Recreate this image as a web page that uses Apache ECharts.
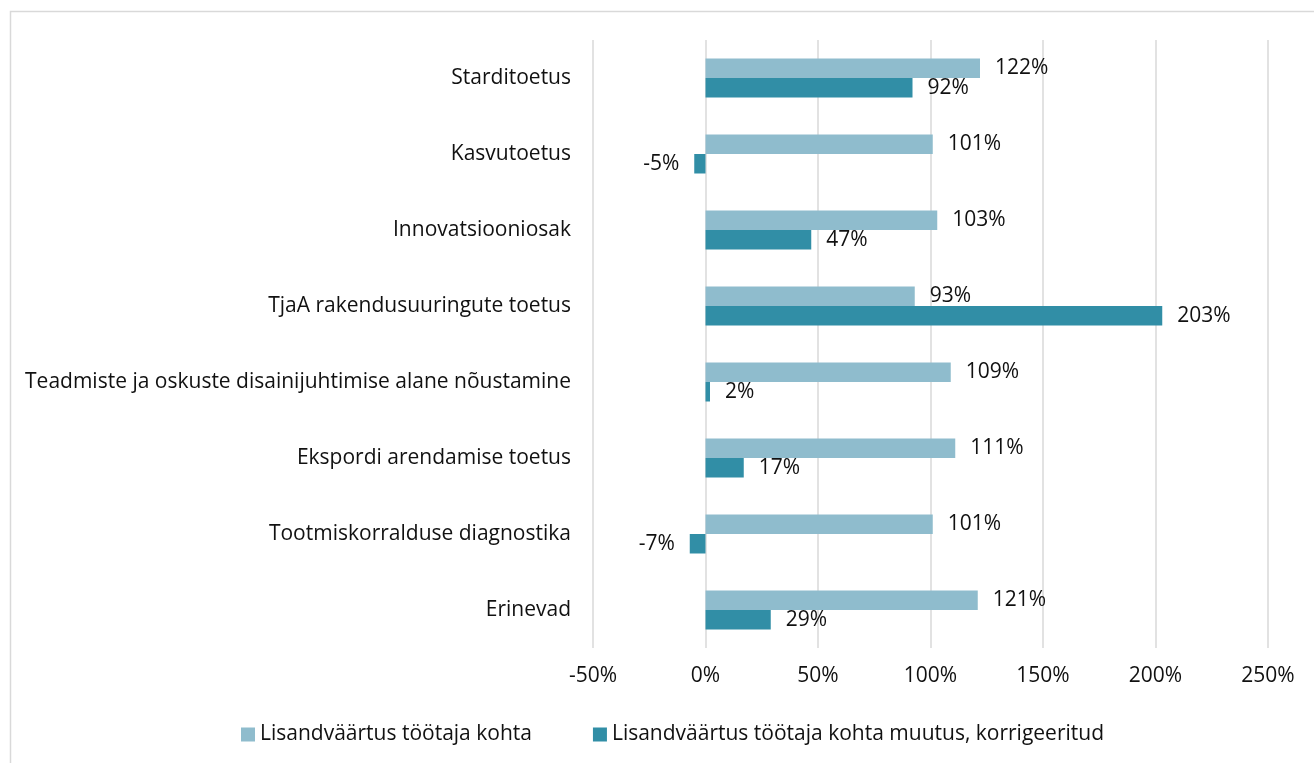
<!DOCTYPE html>
<html>
<head>
<meta charset="utf-8">
<script src="https://cdn.jsdelivr.net/npm/echarts@6/dist/echarts.min.js"></script>
<style>
  html, body { margin: 0; padding: 0; background: #fff; }
  #chart { width: 1314px; height: 763px; }
</style>
</head>
<body>
<div id="chart"></div>
<script>
// data
let categories = [
    'Starditoetus',
    'Kasvutoetus',
    'Innovatsiooniosak',
    'TjaA rakendusuuringute toetus',
    'Teadmiste ja oskuste disainijuhtimise alane nõustamine',
    'Ekspordi arendamise toetus',
    'Tootmiskorralduse diagnostika',
    'Erinevad'
];
let seriesNames = ['Lisandväärtus töötaja kohta', 'Lisandväärtus töötaja kohta muutus, korrigeeritud'];
let valuePerWorker = [122, 101, 103, 93, 109, 111, 101, 121];
let valueChange = [92, -5, 47, 203, 2, 17, -7, 29];
let cColors = ['#8fbccd', '#318ea6'];

let fontFamily = '"Open Sans", "Noto Sans", sans-serif';
let textColor = '#111';
let fontSize = 21;

let chart = echarts.init(document.getElementById('chart'));

// negative bars get their label on the left side
function toData(arr) {
    return arr.map(function (v) {
        return {
            value: v,
            label: { position: v < 0 ? 'left' : 'right' }
        };
    });
}

let labelStyle = {
    show: true,
    distance: 15,
    formatter: '{c}%',
    color: textColor,
    fontFamily: fontFamily,
    fontSize: fontSize
};

let option = {
    backgroundColor: '#fff',
    animation: false,
    textStyle: { fontFamily: fontFamily },
    graphic: [{
        type: 'rect',
        shape: { x: 10.5, y: 11.5, width: 1400, height: 900 },
        style: { fill: 'none', stroke: '#d9d9d9', lineWidth: 1.5 },
        silent: true
    }],
    legend: {
        left: 236,
        top: 719,
        itemWidth: 14,
        itemHeight: 14,
        itemGap: 61,
        icon: 'rect',
        textStyle: { color: textColor, fontSize: fontSize, fontFamily: fontFamily },
        data: seriesNames
    },
    grid: {
        left: 593,
        right: 46,
        top: 40,
        bottom: 115
    },
    xAxis: {
        type: 'value',
        min: -50,
        max: 250,
        interval: 50,
        axisLine: { show: false },
        axisTick: { show: false },
        splitLine: { lineStyle: { color: '#d9d9d9', width: 1.5 } },
        axisLabel: {
            formatter: '{value}%',
            margin: 18,
            color: textColor,
            fontSize: fontSize,
            fontFamily: fontFamily
        }
    },
    yAxis: {
        type: 'category',
        inverse: true,
        data: categories,
        axisLine: { show: false },
        axisTick: { show: false },
        axisLabel: {
            margin: 22,
            color: textColor,
            fontSize: fontSize,
            fontFamily: fontFamily
        }
    },
    series: [{
        name: seriesNames[0],
        type: 'bar',
        barWidth: 19.5,
        barGap: '0%',
        itemStyle: { color: cColors[0] },
        label: labelStyle,
        data: toData(valuePerWorker)
    }, {
        name: seriesNames[1],
        type: 'bar',
        barWidth: 19.5,
        barGap: '0%',
        itemStyle: { color: cColors[1] },
        label: labelStyle,
        data: toData(valueChange)
    }]
};

chart.setOption(option);
</script>
</body>
</html>
